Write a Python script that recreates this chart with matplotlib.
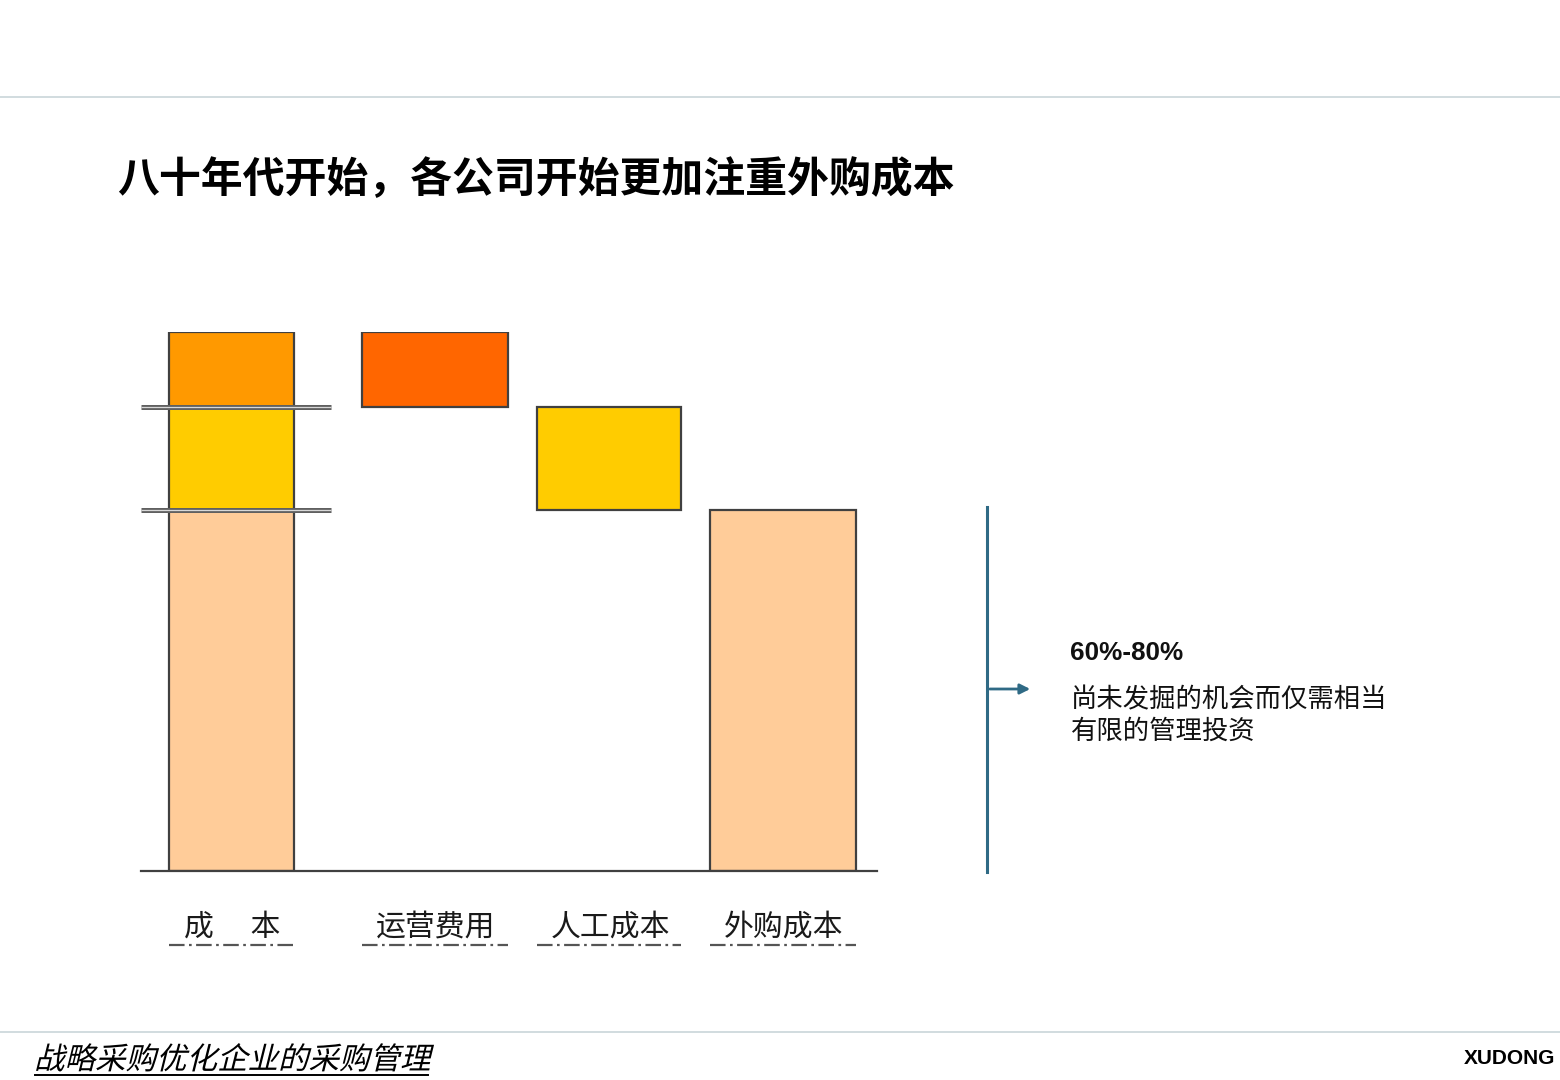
import matplotlib
matplotlib.use("Agg")
import matplotlib.pyplot as plt
from matplotlib.lines import Line2D
from matplotlib.patches import FancyArrowPatch, PathPatch
from matplotlib.textpath import TextPath
from matplotlib.font_manager import FontProperties
from matplotlib.transforms import Affine2D

plt.rcParams['font.family'] = ['Noto Sans CJK SC', 'DejaVu Sans']

# ---------------- data ----------------
title = "八十年代开始，各公司开始更加注重外购成本"
categories = ["成　 本", "运营费用", "人工成本", "外购成本"]
purchased = 67      # 外购成本 share
labor = 19          # 人工成本 share
operating = 14      # 运营费用 share
note_head = "60%-80%"
note_lines = ["尚未发掘的机会而仅需相当", "有限的管理投资"]
footer = "战略采购优化企业的采购管理"
brand = "XUDONG"

c_peach = "#FFCC99"
c_yellow = "#FFCC00"
c_orange = "#FF9900"
c_red = "#FF6600"
edge = "#404040"

W, H = 1560, 1080
fig = plt.figure(figsize=(W / 100, H / 100), dpi=100)
fig.patch.set_facecolor("white")

def fx(px):
    return px / W

def fy(py):
    return 1 - py / H

# header / footer rules
for yy in (97, 1032):
    fig.add_artist(Line2D([0, 1], [fy(yy), fy(yy)], transform=fig.transFigure,
                          color="#C9D5D9", lw=1.2))

fig.text(fx(117), fy(180), title, fontsize=30.2, fontweight="bold",
         ha="left", va="center", color="black")

# ---------------- chart axes ----------------
ax_left, ax_right, ax_bottom, ax_top = 141, 877, 871, 332
ax = fig.add_axes([fx(ax_left), fy(ax_bottom), fx(ax_right - ax_left),
                   (ax_bottom - ax_top) / H])
ax.set_xlim(0, ax_right - ax_left)
total = purchased + labor + operating
ax.set_ylim(0, total)
for s in ("top", "right", "left"):
    ax.spines[s].set_visible(False)
ax.spines["bottom"].set_color(edge)
ax.spines["bottom"].set_linewidth(1.6)
ax.set_xticks([])
ax.set_yticks([])
ax.patch.set_alpha(0)

centers = [90.5, 294, 468, 642]
widths = [125, 146, 144, 146]
kw = dict(edgecolor=edge, linewidth=1.6, zorder=2)

# total cost bar (stacked)
ax.bar(centers[0], purchased, widths[0], bottom=0, color=c_peach, **kw)
ax.bar(centers[0], labor, widths[0], bottom=purchased, color=c_yellow, **kw)
ax.bar(centers[0], operating, widths[0], bottom=purchased + labor, color=c_orange, **kw)
# waterfall pieces
ax.bar(centers[1], operating, widths[1], bottom=purchased + labor, color=c_red, **kw)
ax.bar(centers[2], labor, widths[2], bottom=purchased, color=c_yellow, **kw)
ax.bar(centers[3], purchased, widths[3], bottom=0, color=c_peach, **kw)

# double break lines across the first bar
for yv in (purchased, purchased + labor):
    ax.plot([0, 190], [yv, yv], color="#606060", lw=3.6, solid_capstyle="butt",
            zorder=3, clip_on=False)
    ax.plot([0, 190], [yv, yv], color="#D8D8D8", lw=0.9, solid_capstyle="butt",
            zorder=4, clip_on=False)

# category labels with dash-dot underline
px_per_unit = (ax_bottom - ax_top) / total
for c, w, lab in zip(centers, widths, categories):
    ax.text(c + 1, -56 / px_per_unit, lab, ha="center", va="center", fontsize=21.5,
            color="#1a1a1a", clip_on=False)
    ax.plot([c - w / 2, c + w / 2], [-74 / px_per_unit] * 2, color="#555555",
            lw=1.6, linestyle=(0, (7, 2, 1.2, 2)), clip_on=False)

# ---------------- right annotation ----------------
teal = "#2F6A85"
fig.add_artist(Line2D([fx(987), fx(987)], [fy(507), fy(872)],
                      transform=fig.transFigure, color=teal, lw=2.2))
fig.add_artist(FancyArrowPatch((fx(987), fy(689)), (fx(1033), fy(689)),
                               transform=fig.transFigure, arrowstyle="-|>",
                               mutation_scale=15, color=teal, lw=2.0))
fig.text(fx(1070), fy(653), note_head, fontsize=18.8, fontweight="bold",
         family=["Liberation Sans", "DejaVu Sans"], ha="left", va="center",
         color="#111111")
fig.text(fx(1071), fy(700), note_lines[0], fontsize=19, ha="left", va="center",
         color="#111111")
fig.text(fx(1071), fy(731), note_lines[1], fontsize=19, ha="left", va="center",
         color="#111111")

# ---------------- footer ----------------
tp = TextPath((0, 0), footer, size=30.5,
              prop=FontProperties(family="Noto Sans CJK SC"))
tr = Affine2D().skew_deg(14, 0).translate(34, H - 1069).scale(1 / W, 1 / H) + fig.transFigure
fig.add_artist(PathPatch(tp, transform=tr, facecolor="black", edgecolor="none"))
fig.add_artist(Line2D([fx(35), fx(428)], [fy(1075), fy(1075)],
                      transform=fig.transFigure, color="black", lw=1.4))

fig.text(fx(1555), fy(1059), brand, fontsize=15, fontweight="bold",
         family=["Liberation Sans", "DejaVu Sans"], ha="right", va="center",
         color="black")

fig.savefig("out.png", dpi=100, facecolor="white")
